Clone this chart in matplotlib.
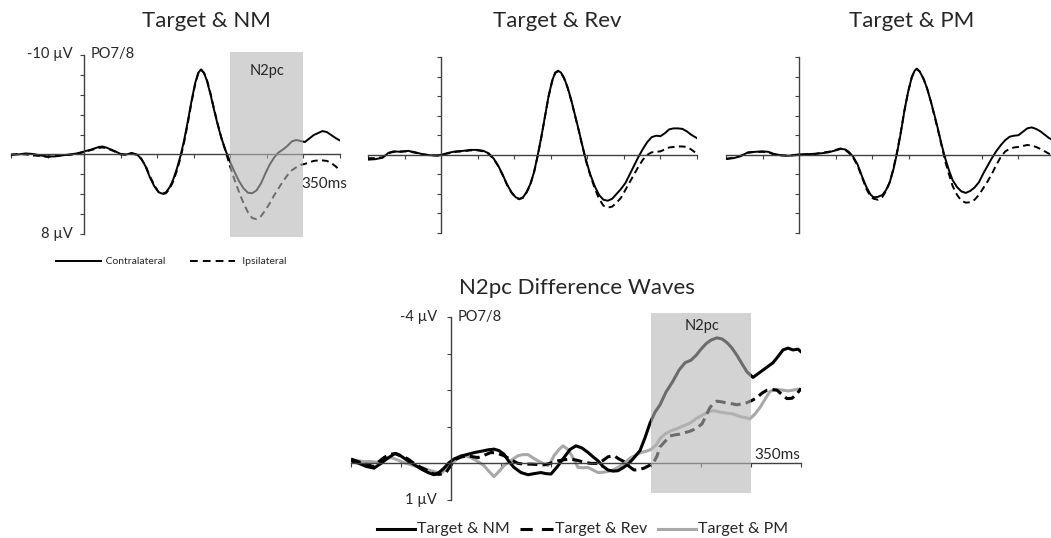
import numpy as np
import matplotlib
matplotlib.use("Agg")
import matplotlib.pyplot as plt
from matplotlib.patches import Rectangle
from matplotlib.lines import Line2D

plt.rcParams["font.family"] = ["Lato", "DejaVu Sans"]

# -- Figure size in pixels --
W, H = 1051, 538

# -- Colours --
AXIS = "#404040"
TEXT = "#262626"
BOX = "#b6b6b6"
PM_GREY = "#a8a8a8"

# -- Top row: contralateral / ipsilateral ERPs (ms, µV) --
nm_t = [-100, -90, -80, -70, -60, -50, -40, -30, -20, -10, 0, 10, 20, 25, 30, 40, 50, 58, 65, 72,
        78, 84, 90, 96, 102, 107, 112, 117, 122, 127, 132, 137, 142, 147, 152, 156, 160, 164, 168,
        173, 178, 183, 188, 194, 200, 206, 212, 218, 224, 230, 236, 242, 248, 254, 260, 266, 272,
        278, 284, 290, 296, 302, 308, 314, 320, 326, 332, 338, 344, 350]
nm_contra = [0.0, 0.0, -0.1, -0.05, 0.1, 0.2, 0.2, 0.1, 0.0, -0.1, -0.3, -0.5, -0.75, -0.8, -0.7,
             -0.4, -0.05, 0.0, -0.15, 0.0, 0.4, 1.2, 2.3, 3.2, 3.8, 3.95, 3.8, 3.3, 2.5, 1.4, 0.1,
             -1.5, -3.4, -5.4, -7.2, -8.2, -8.55, -8.2, -7.4, -6.0, -4.4, -2.9, -1.6, -0.3, 0.8,
             1.8, 2.7, 3.4, 3.85, 3.9, 3.6, 2.9, 1.9, 1.0, 0.3, -0.2, -0.5, -0.85, -1.3, -1.45,
             -1.35, -1.25, -1.6, -1.95, -2.15, -2.35, -2.25, -1.95, -1.65, -1.4]
nm_ipsi = [0.05, -0.05, 0.0, 0.1, 0.15, 0.25, 0.15, 0.05, 0.05, -0.05, -0.25, -0.45, -0.65, -0.7,
           -0.65, -0.35, 0.0, 0.05, -0.1, 0.05, 0.45, 1.1, 2.2, 3.1, 3.8, 4.0, 3.9, 3.45, 2.7, 1.6,
           0.3, -1.3, -3.2, -5.3, -7.1, -8.1, -8.5, -8.2, -7.5, -6.1, -4.5, -3.0, -1.6, -0.2, 1.3,
           2.6, 3.8, 4.9, 5.8, 6.4, 6.5, 6.2, 5.6, 4.9, 4.1, 3.4, 2.7, 2.1, 1.6, 1.3, 1.05, 0.95,
           0.8, 0.65, 0.6, 0.6, 0.65, 0.85, 1.2, 1.6]

rev_t = [-100, -90, -80, -72, -65, -55, -45, -35, -25, -15, -5, 0, 10, 20, 30, 40, 50, 58, 65, 72,
         78, 84, 90, 96, 102, 107, 112, 117, 122, 127, 132, 137, 142, 147, 152, 156, 160, 164, 168,
         173, 178, 183, 188, 193, 198, 204, 210, 216, 222, 228, 234, 240, 246, 252, 258, 264, 270,
         276, 282, 288, 294, 300, 306, 312, 318, 324, 330, 336, 342, 350]
rev_contra = [0.5, 0.45, 0.3, -0.2, -0.35, -0.3, -0.4, -0.25, -0.05, 0.05, 0.05, 0.0, -0.2, -0.35,
              -0.4, -0.5, -0.5, -0.4, -0.15, 0.4, 1.1, 2.0, 3.0, 3.8, 4.35, 4.5, 4.35, 3.8, 3.0,
              1.8, 0.1, -1.8, -3.9, -6.0, -7.6, -8.4, -8.6, -8.4, -7.9, -6.9, -5.6, -4.1, -2.6,
              -1.0, 0.5, 2.0, 3.2, 4.1, 4.6, 4.7, 4.5, 4.0, 3.5, 2.9, 2.0, 1.1, 0.2, -0.6, -1.3,
              -1.8, -1.95, -1.9, -2.2, -2.6, -2.7, -2.7, -2.65, -2.4, -2.05, -1.7]
rev_ipsi = [0.35, 0.35, 0.25, -0.15, -0.3, -0.35, -0.35, -0.2, -0.05, 0.05, 0.1, 0.05, -0.15,
            -0.3, -0.35, -0.45, -0.45, -0.35, -0.1, 0.45, 1.15, 2.05, 3.05, 3.85, 4.4, 4.55, 4.4,
            3.85, 3.05, 1.85, 0.15, -1.75, -3.85, -5.95, -7.55, -8.35, -8.55, -8.35, -7.85, -6.85,
            -5.55, -4.05, -2.55, -0.95, 0.6, 2.1, 3.4, 4.5, 5.2, 5.4, 5.3, 4.9, 4.4, 3.6, 2.8,
            2.0, 1.2, 0.5, 0.0, -0.25, -0.3, -0.35, -0.55, -0.75, -0.8, -0.85, -0.85, -0.8,
            -0.55, -0.1]

pm_t = [-100, -90, -80, -70, -60, -50, -42, -35, -25, -15, -5, 0, 10, 20, 30, 40, 50, 57, 63, 68,
        74, 80, 86, 92, 98, 102, 108, 114, 119, 124, 129, 134, 139, 144, 149, 154, 158, 161, 165,
        170, 175, 180, 185, 190, 195, 200, 205, 210, 216, 222, 228, 234, 240, 246, 252, 258, 264,
        270, 276, 282, 288, 294, 300, 306, 312, 318, 324, 330, 336, 342, 350]
pm_contra = [0.4, 0.35, 0.15, -0.25, -0.3, -0.35, -0.3, -0.1, 0.05, 0.1, 0.05, -0.05, -0.05, -0.1,
             -0.15, -0.25, -0.45, -0.6, -0.55, -0.3, 0.2, 1.0, 2.2, 3.3, 4.1, 4.35, 4.3, 4.1, 3.6,
             2.8, 1.5, -0.2, -2.2, -4.5, -6.4, -7.9, -8.6, -8.8, -8.5, -7.8, -6.8, -5.5, -4.1,
             -2.6, -1.0, 0.4, 1.6, 2.6, 3.3, 3.75, 3.9, 3.7, 3.35, 2.8, 1.9, 1.1, 0.3, -0.4, -1.0,
             -1.5, -1.85, -1.95, -2.0, -2.35, -2.7, -2.8, -2.65, -2.4, -2.05, -1.7, -1.4]
pm_ipsi = [0.45, 0.3, 0.1, -0.2, -0.3, -0.3, -0.25, -0.05, 0.05, 0.1, 0.0, 0.0, -0.05, -0.05,
           -0.2, -0.3, -0.5, -0.65, -0.5, -0.2, 0.3, 1.1, 2.3, 3.5, 4.3, 4.5, 4.6, 4.3, 3.7, 2.8,
           1.4, -0.3, -2.3, -4.5, -6.4, -7.9, -8.6, -8.8, -8.5, -7.8, -6.8, -5.5, -4.0, -2.5,
           -0.9, 0.7, 2.0, 3.2, 4.1, 4.7, 4.9, 4.85, 4.6, 4.1, 3.4, 2.7, 1.9, 1.0, 0.2, -0.35,
           -0.6, -0.75, -0.8, -0.9, -1.0, -0.95, -0.8, -0.6, -0.35, -0.1, 0.15]

# -- Bottom: N2pc difference waves (ms, µV) --
diff_nm_t = [-100, -92, -85, -77, -70, -63, -56, -50, -43, -36, -30, -23, -17, -12, -7, -2, 3, 10,
             17, 24, 30, 37, 43, 48, 53, 58, 63, 70, 77, 83, 90, 95, 100, 106, 113, 119, 125, 131,
             137, 142, 147, 152, 157, 162, 167, 172, 177, 182, 189, 194, 199, 204, 209, 215, 222,
             228, 234, 240, 245, 250, 255, 260, 266, 271, 276, 281, 286, 291, 296, 302, 307, 312,
             317, 322, 327, 332, 337, 342, 347, 350]
diff_nm = [-0.07, 0.0, 0.08, 0.13, 0.0, -0.15, -0.27, -0.2, -0.07, 0.05, 0.15, 0.25, 0.31, 0.25,
           0.13, -0.02, -0.12, -0.2, -0.25, -0.3, -0.33, -0.37, -0.39, -0.35, -0.25, -0.05, 0.11,
           0.25, 0.31, 0.28, 0.25, 0.28, 0.29, 0.1, -0.16, -0.38, -0.48, -0.42, -0.3, -0.18, -0.07,
           0.08, 0.18, 0.21, 0.2, 0.12, 0.02, -0.12, -0.35, -0.7, -1.1, -1.4, -1.6, -1.95, -2.25,
           -2.55, -2.75, -2.82, -2.95, -3.12, -3.27, -3.37, -3.43, -3.4, -3.3, -3.15, -2.95, -2.72,
           -2.5, -2.35, -2.45, -2.55, -2.65, -2.75, -2.92, -3.1, -3.15, -3.1, -3.12, -3.05]

diff_rev_t = [-100, -93, -87, -82, -77, -72, -67, -61, -55, -49, -43, -37, -30, -23, -17, -11, -5,
              0, 5, 11, 17, 22, 27, 33, 40, 46, 53, 60, 67, 73, 80, 87, 93, 100, 107, 113, 120,
              127, 133, 140, 147, 152, 157, 163, 168, 173, 178, 183, 188, 193, 198, 202, 206, 209,
              214, 219, 224, 229, 234, 239, 245, 251, 255, 259, 263, 266, 271, 276, 281, 286, 291,
              296, 301, 306, 311, 316, 321, 326, 331, 336, 341, 346, 350]
diff_rev = [-0.12, -0.05, 0.0, 0.05, 0.09, -0.05, -0.16, -0.25, -0.27, -0.2, -0.12, 0.0, 0.11,
            0.2, 0.29, 0.3, 0.25, 0.05, -0.12, -0.18, -0.21, -0.18, -0.16, -0.22, -0.3, -0.28,
            -0.21, -0.1, 0.0, 0.02, 0.02, 0.03, 0.04, -0.01, -0.07, -0.1, -0.12, -0.08, -0.03, 0.0,
            0.0, -0.08, -0.18, -0.21, -0.12, -0.05, 0.08, 0.18, 0.17, 0.13, 0.06, 0.0, -0.2, -0.45,
            -0.6, -0.75, -0.78, -0.8, -0.84, -0.88, -0.95, -1.08, -1.3, -1.53, -1.65, -1.7, -1.68,
            -1.65, -1.63, -1.6, -1.63, -1.66, -1.72, -1.8, -1.92, -2.0, -2.02, -2.0, -1.88, -1.77,
            -1.78, -1.9, -2.05]

diff_pm_t = [-100, -93, -87, -80, -73, -67, -60, -54, -48, -41, -33, -27, -20, -15, -10, -5, 0, 5,
             10, 15, 20, 27, 33, 38, 43, 48, 53, 60, 67, 72, 77, 82, 87, 92, 97, 100, 103, 108, 112,
             116, 120, 124, 127, 132, 137, 142, 147, 153, 160, 165, 170, 175, 180, 185, 190, 195,
             200, 205, 210, 215, 220, 226, 232, 239, 245, 252, 258, 263, 269, 276, 282, 289, 294,
             299, 304, 309, 314, 319, 325, 332, 337, 342, 347, 350]
diff_pm = [-0.09, -0.07, -0.05, -0.05, -0.03, -0.1, -0.16, -0.1, -0.03, 0.03, 0.09, 0.14, 0.2,
           0.24, 0.27, 0.15, 0.02, -0.1, -0.21, -0.2, -0.16, -0.05, 0.06, 0.22, 0.36, 0.22, 0.06,
           -0.08, -0.21, -0.24, -0.24, -0.15, -0.07, 0.0, 0.06, -0.05, -0.21, -0.38, -0.48, -0.4,
           -0.25, -0.05, 0.11, 0.12, 0.11, 0.18, 0.25, 0.24, 0.2, 0.14, 0.06, -0.05, -0.16, -0.23,
           -0.3, -0.33, -0.38, -0.5, -0.71, -0.82, -0.89, -0.95, -1.02, -1.1, -1.22, -1.33, -1.42,
           -1.44, -1.4, -1.37, -1.35, -1.28, -1.25, -1.22, -1.35, -1.53, -1.75, -1.97, -2.02, -2.0,
           -1.98, -2.0, -2.03, -2.0]

TOP_PANELS = [
    ("Target & NM", nm_t, nm_contra, nm_ipsi),
    ("Target & Rev", rev_t, rev_contra, rev_ipsi),
    ("Target & PM", pm_t, pm_contra, pm_ipsi),
]
# pixel extents (left, top, right, bottom) of the data ranges
TOP_RECTS = [(11, 55, 340, 234), (368, 57, 697, 233), (726, 57, 1055, 233)]
TITLE_X = [206, 557, 912]
BOTTOM_RECT = (351, 317, 801, 500)

N2PC_WIN = (200, 300)


def add_axes_px(fig, rect):
    l, t, r, b = rect
    return fig.add_axes([l / W, 1 - b / H, (r - l) / W, (b - t) / H])


def style_axes(ax, xlim, ylim, yticks):
    ax.set_xlim(*xlim)
    ax.set_ylim(*ylim)
    ax.patch.set_alpha(0)
    for side in ["top", "right"]:
        ax.spines[side].set_visible(False)
    ax.spines["left"].set_position(("data", 0))
    ax.spines["bottom"].set_position(("data", 0))
    for side in ["left", "bottom"]:
        ax.spines[side].set_color(AXIS)
        ax.spines[side].set_linewidth(1.0)
    ax.set_xticks(np.arange(-100, 351, 50))
    ax.set_yticks(yticks)
    ax.tick_params(direction="out", length=3, width=0.8, color=AXIS,
                   labelbottom=False, labelleft=False)


def legend_item(fig, x0, x1, y, label, fs, **line_kw):
    fig.add_artist(Line2D([x0 / W, x1 / W], [1 - y / H, 1 - y / H],
                          transform=fig.transFigure, **line_kw))
    fig.text((x1 + 2) / W, 1 - y / H, label, fontsize=fs, color=TEXT,
             ha="left", va="center")


fig = plt.figure(figsize=(W / 100, H / 100), dpi=100, facecolor="white")

# -- Top row --
for i, ((title, t, contra, ipsi), rect) in enumerate(zip(TOP_PANELS, TOP_RECTS)):
    ax = add_axes_px(fig, rect)
    style_axes(ax, (-100, 350), (8, -10), np.arange(-10, 9, 2))
    ax.plot(t, ipsi, color="black", lw=1.4, ls=(0, (3.5, 2.2)), zorder=2)
    ax.plot(t, contra, color="black", lw=1.4, zorder=2)
    fig.text(TITLE_X[i] / W, 1 - 21 / H, title, fontsize=16, color=TEXT,
             ha="center", va="center")
    if i == 0:
        ax.add_patch(Rectangle((N2PC_WIN[0], -10.3), N2PC_WIN[1] - N2PC_WIN[0], 18.6,
                               facecolor=BOX, edgecolor="none", alpha=0.6,
                               clip_on=False, zorder=4))
        ax.text(250, -8.4, "N2pc", fontsize=10.5, color=TEXT, ha="center",
                va="center", zorder=5)
        ax.text(328, 3.0, "350ms", fontsize=11, color=TEXT, ha="center",
                va="center", zorder=5)
        ax.annotate("-10 µV", xy=(0, -10), xytext=(-8, 1), textcoords="offset points",
                    fontsize=10.5, color=TEXT, ha="right", va="center")
        ax.annotate("8 µV", xy=(0, 8), xytext=(-8, 0), textcoords="offset points",
                    fontsize=10.5, color=TEXT, ha="right", va="center")
        ax.annotate("PO7/8", xy=(0, -10), xytext=(4.5, 1), textcoords="offset points",
                    fontsize=10.5, color=TEXT, ha="left", va="center")

# top legend
legend_item(fig, 56, 101, 261, " Contralateral", 7.5, color="black", lw=1.4)
legend_item(fig, 190, 235, 261, "  Ipsilateral", 7.5, color="black", lw=1.4,
            ls=(0, (4, 2.6)))

# -- Bottom: difference waves --
ax = add_axes_px(fig, BOTTOM_RECT)
style_axes(ax, (-100, 350), (1, -4), np.arange(-4, 2, 1))
ax.plot(diff_pm_t, diff_pm, color=PM_GREY, lw=2.2, zorder=2)
ax.plot(diff_rev_t, diff_rev, color="black", lw=2.2, ls=(0, (3.3, 1.7)), zorder=2)
ax.plot(diff_nm_t, diff_nm, color="black", lw=2.2, zorder=2)
ax.add_patch(Rectangle((N2PC_WIN[0], -4.12), N2PC_WIN[1] - N2PC_WIN[0], 4.94,
                       facecolor=BOX, edgecolor="none", alpha=0.6,
                       clip_on=False, zorder=4))
ax.text(251, -3.76, "N2pc", fontsize=10.5, color=TEXT, ha="center", va="center", zorder=5)
ax.text(326, -0.22, "350ms", fontsize=11, color=TEXT, ha="center", va="center", zorder=5)
ax.annotate("-4 µV", xy=(0, -4), xytext=(-10, 0), textcoords="offset points",
            fontsize=10.5, color=TEXT, ha="right", va="center")
ax.annotate("1 µV", xy=(0, 1), xytext=(-10, 0), textcoords="offset points",
            fontsize=10.5, color=TEXT, ha="right", va="center")
ax.annotate("PO7/8", xy=(0, -4), xytext=(5, 0), textcoords="offset points",
            fontsize=10.5, color=TEXT, ha="left", va="center")
fig.text(577 / W, 1 - 288 / H, "N2pc Difference Waves", fontsize=16, color=TEXT,
         ha="center", va="center")

# bottom legend
legend_item(fig, 377, 415, 529, "Target & NM", 11.5, color="black", lw=2.2)
legend_item(fig, 520, 553, 529, "Target & Rev", 11.5, color="black", lw=2.2,
            ls=(0, (4, 3)))
legend_item(fig, 658, 696, 529, "Target & PM", 11.5, color=PM_GREY, lw=2.2)

fig.savefig("out.png", dpi=100, facecolor="white")
